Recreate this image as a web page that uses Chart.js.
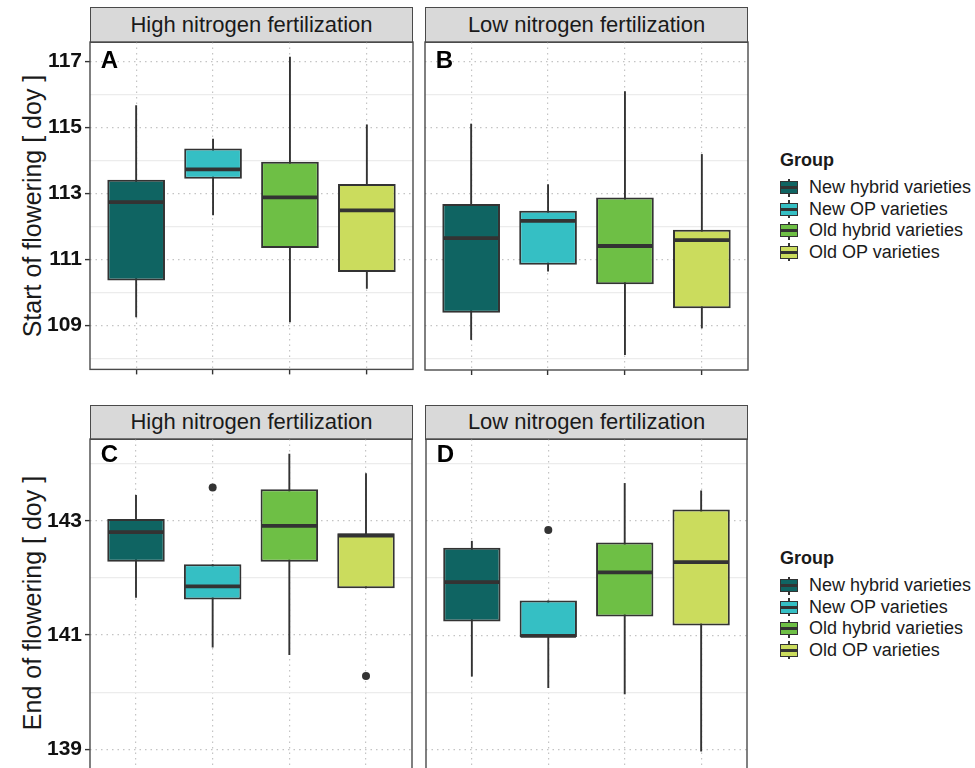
<!DOCTYPE html>
<html>
<head>
<meta charset="utf-8">
<script src="https://cdn.jsdelivr.net/npm/chart.js@4.4.0/dist/chart.umd.min.js"></script>
<style>
  body { margin: 0; width: 975px; height: 768px; overflow: hidden; background: #fff;
         font-family: "Liberation Sans", Arial, sans-serif; color: #1a1a1a; position: relative; }
  canvas { position: absolute; }
  .strip { position: absolute; box-sizing: border-box; background: #d9d9d9; border: 1.4px solid #4a4a4a;
           font-size: 22px; text-align: center; }
  .ytitle { position: absolute; white-space: nowrap; font-size: 25px;
            transform: translate(-50%, -50%) rotate(-90deg); }
  .legend { position: absolute; left: 780px; font-size: 18px; }
  .legend .title { font-weight: bold; margin-bottom: 6px; }
  .legend .row { height: 21.5px; display: flex; align-items: center; }
  .key { position: relative; width: 18px; height: 20px; margin-right: 11px; }
  .key .wh { position: absolute; left: 8px; top: 1px; width: 1.8px; height: 18px; background: #333; }
  .key .bx { position: absolute; left: 0; top: 3.5px; width: 18px; height: 13px; box-sizing: border-box;
             border: 1.8px solid #333; }
  .key .md { position: absolute; left: 0; top: 8.7px; width: 18px; height: 2.6px; background: #333; }
</style>
</head>
<body>

<div class="strip" style="left:90px;top:7px;width:323px;height:36px;line-height:33px;">High nitrogen fertilization</div>
<div class="strip" style="left:425px;top:7px;width:323px;height:36px;line-height:33px;">Low nitrogen fertilization</div>
<div class="strip" style="left:90px;top:405px;width:323px;height:35px;line-height:32px;">High nitrogen fertilization</div>
<div class="strip" style="left:425px;top:405px;width:323px;height:35px;line-height:32px;">Low nitrogen fertilization</div>

<div class="ytitle" style="left:32px;top:206px;">Start of flowering [ doy ]</div>
<div class="ytitle" style="left:32px;top:603px;">End of flowering [ doy ]</div>

<canvas id="chartA" width="416" height="363" style="left:0px;top:22px;"></canvas>
<canvas id="chartB" width="329" height="363" style="left:422px;top:22px;"></canvas>
<canvas id="chartC" width="416" height="371" style="left:0px;top:419px;"></canvas>
<canvas id="chartD" width="329" height="371" style="left:422px;top:419px;"></canvas>

<div class="legend" id="legendTop" style="top:150px;"></div>
<div class="legend" id="legendBottom" style="top:548px;"></div>

<script>
// categories
const groups = ['New hybrid varieties', 'New OP varieties', 'Old hybrid varieties', 'Old OP varieties'];
const groupColors = ['#0f6462', '#35bfc4', '#6ebf45', '#cbdc5d'];

// each row: [lower whisker, Q1, median, Q3, upper whisker]
const startHigh = [
    [109.25, 110.36, 112.74, 113.42, 115.67],
    [112.34, 113.45, 113.73, 114.36, 114.66],
    [109.10, 111.35, 112.88, 113.96, 117.14],
    [110.11, 110.62, 112.49, 113.29, 115.09]
];
const startLow = [
    [108.58, 109.40, 111.66, 112.69, 115.12],
    [110.65, 110.85, 112.18, 112.49, 113.29],
    [108.12, 110.26, 111.42, 112.89, 116.10],
    [108.93, 109.54, 111.60, 111.91, 114.20]
];
const endHigh = [
    [141.65, 142.28, 142.80, 143.03, 143.45],
    [140.78, 141.62, 141.85, 142.24, 142.24],
    [140.65, 142.28, 142.91, 143.55, 144.17],
    [141.82, 141.82, 142.74, 142.78, 143.83]
];
const endLow = [
    [140.28, 141.24, 141.93, 142.53, 142.65],
    [140.08, 140.97, 140.99, 141.61, 141.61],
    [139.97, 141.33, 142.10, 142.62, 143.66],
    [138.97, 141.17, 142.28, 143.20, 143.53]
];

// outliers (null = none)
const startHighOutliers = [null, null, null, null];
const startLowOutliers = [null, null, null, null];
const endHighOutliers = [null, 143.58, null, 140.28];
const endLowOutliers = [null, 142.84, null, null];

// axes
const startRange = [107.67, 117.59];
const endRange = [138.56, 144.43];
const startTicks = [109, 111, 113, 115, 117];
const startMinor = [108, 110, 112, 114, 116];
const endTicks = [139, 141, 143];
const endMinor = [140, 142, 144];

// panel tags
const panelLetters = ['A', 'B', 'C', 'D'];
const letterY = [117, 117, 144.15, 144.15];

// draws panel border + letter
const panelDeco = {
    id: 'panelDeco',
    afterDraw(chart, args, opts) {
        let ctx = chart.ctx;
        let a = chart.chartArea;
        ctx.save();
        ctx.font = 'bold 24px "Liberation Sans", Arial, sans-serif';
        ctx.fillStyle = '#000';
        ctx.textAlign = 'left';
        ctx.textBaseline = 'middle';
        ctx.fillText(opts.letter, chart.scales.x.getPixelForValue(-0.46), chart.scales.y.getPixelForValue(opts.letterY));
        ctx.strokeStyle = '#4a4a4a';
        ctx.lineWidth = 1.4;
        ctx.strokeRect(a.left, a.top, a.right - a.left, a.bottom - a.top);
        ctx.restore();
    }
};

function makePanel(id, boxes, outliers, range, ticks, minor, idx, showY) {
    let ctx = document.getElementById(id).getContext('2d');
    let outPts = [];
    outliers.forEach((v, i) => { if (v !== null) outPts.push({x: i, y: v}); });

    return new Chart(ctx, {
        type: 'bar',
        data: {
            datasets: [{
                // whiskers
                data: boxes.map((b, i) => ({x: i, y: [b[0], b[4]]})),
                backgroundColor: '#333',
                maxBarThickness: 1.9,
                grouped: false,
                order: 3,
                yAxisID: 'y'
            }, {
                // boxes
                data: boxes.map((b, i) => ({x: i, y: [b[1], b[3]]})),
                backgroundColor: groupColors,
                borderColor: '#333',
                borderWidth: 2,
                borderSkipped: false,
                grouped: false,
                barPercentage: 0.75,
                categoryPercentage: 1,
                order: 2,
                yAxisID: 'y'
            }, {
                // medians
                type: 'line',
                data: boxes.map((b, i) => ({x: i, y: b[2]})),
                showLine: false,
                pointStyle: 'line',
                pointRadius: c => c.chart.scales.x.getPixelForValue(0.375) - c.chart.scales.x.getPixelForValue(0) - 1,
                pointBorderWidth: 3.8,
                pointBorderColor: '#333',
                order: 1,
                yAxisID: 'y'
            }, {
                // outliers
                type: 'line',
                data: outPts,
                showLine: false,
                pointStyle: 'circle',
                pointRadius: 4,
                pointBorderWidth: 0,
                pointBackgroundColor: '#333',
                order: 0,
                yAxisID: 'y'
            }]
        },
        options: {
            responsive: false,
            animation: false,
            events: [],
            layout: { padding: { top: 20, right: 3, left: showY ? 0 : 3, bottom: 0 } },
            plugins: {
                legend: { display: false },
                tooltip: { enabled: false },
                panelDeco: { letter: panelLetters[idx], letterY: letterY[idx] }
            },
            scales: {
                x: {
                    type: 'linear',
                    min: -0.6,
                    max: 3.6,
                    offset: false,
                    afterBuildTicks: s => { s.ticks = [0, 1, 2, 3].map(v => ({value: v})); },
                    afterFit: s => { s.height = 15; },
                    grid: { offset: false, color: '#c4c4c4', lineWidth: 1.2, tickColor: '#333', tickWidth: 1.4, tickLength: 5 },
                    border: { display: false, dash: [1.5, 4] },
                    ticks: { display: false }
                },
                y: {
                    type: 'linear',
                    position: 'left',
                    min: range[0],
                    max: range[1],
                    beginAtZero: false,
                    afterBuildTicks: s => { s.ticks = ticks.map(v => ({value: v})); },
                    afterFit: s => { s.width = showY ? 90 : 0; },
                    grid: { color: '#c4c4c4', lineWidth: 1.2, drawTicks: showY, tickColor: '#333', tickWidth: 1.4, tickLength: 5 },
                    border: { display: false, dash: [1.5, 4] },
                    ticks: {
                        display: showY,
                        padding: 3,
                        color: '#111',
                        font: { family: '"Liberation Sans", Arial, sans-serif', size: 21, weight: 'bold' }
                    }
                },
                yMinor: {
                    type: 'linear',
                    axis: 'y',
                    position: 'left',
                    min: range[0],
                    max: range[1],
                    beginAtZero: false,
                    afterBuildTicks: s => { s.ticks = minor.map(v => ({value: v})); },
                    afterFit: s => { s.width = 0; },
                    grid: { color: '#ececec', lineWidth: 1.2, drawTicks: false },
                    border: { display: false },
                    ticks: { display: false }
                }
            }
        },
        plugins: [panelDeco]
    });
}

makePanel('chartA', startHigh, startHighOutliers, startRange, startTicks, startMinor, 0, true);
makePanel('chartB', startLow, startLowOutliers, startRange, startTicks, startMinor, 1, false);
makePanel('chartC', endHigh, endHighOutliers, endRange, endTicks, endMinor, 2, true);
makePanel('chartD', endLow, endLowOutliers, endRange, endTicks, endMinor, 3, false);

// legends
function fillLegend(id) {
    let el = document.getElementById(id);
    let html = '<div class="title">Group</div>';
    groups.forEach((g, i) => {
        html += '<div class="row"><div class="key"><div class="wh"></div>' +
            '<div class="bx" style="background:' + groupColors[i] + '"></div><div class="md"></div></div>' +
            '<span>' + g + '</span></div>';
    });
    el.innerHTML = html;
}
fillLegend('legendTop');
fillLegend('legendBottom');
</script>
</body>
</html>
